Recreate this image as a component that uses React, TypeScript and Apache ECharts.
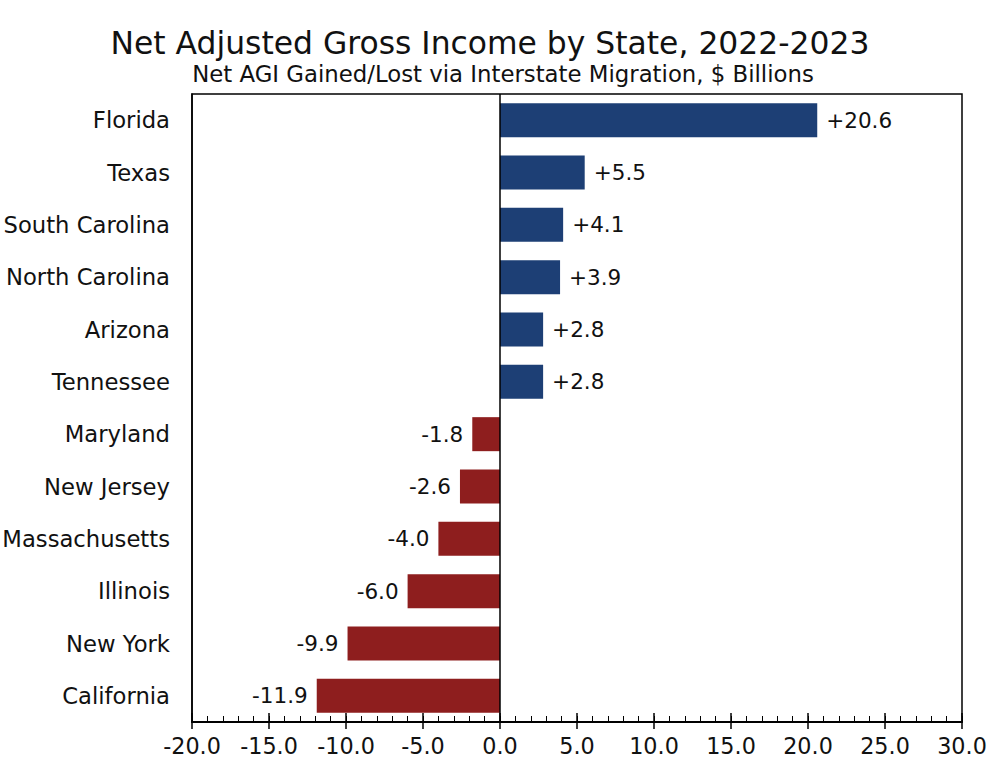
import React, { useEffect, useRef } from "react";
import * as echarts from "echarts";

const states = [
  "Florida",
  "Texas",
  "South Carolina",
  "North Carolina",
  "Arizona",
  "Tennessee",
  "Maryland",
  "New Jersey",
  "Massachusetts",
  "Illinois",
  "New York",
  "California",
];
const netAgi = [20.6, 5.5, 4.1, 3.9, 2.8, 2.8, -1.8, -2.6, -4.0, -6.0, -9.9, -11.9];
const xMin = -20;
const xMax = 30;

const BLUE = "#1d3f75";
const RED = "#8e1e1e";
const FONT = "Verdana, 'DejaVu Sans', sans-serif";

export default function App() {
  const ref = useRef<HTMLDivElement>(null);
  useEffect(() => {
    if (!ref.current) return;
    const chart = echarts.init(ref.current, null, { renderer: "svg" });
    const baseX = {
      type: "value" as const,
      min: xMin,
      max: xMax,
      position: "bottom" as const,
      splitLine: { show: false },
      axisLine: { show: true, onZero: false, lineStyle: { color: "#000", width: 1.5 } },
    };
    chart.setOption({
      animation: false,
      backgroundColor: "#fff",
      title: [
        {
          text: "Net Adjusted Gross Income by State, 2022-2023",
          left: 485,
          textAlign: "center",
          top: 22,
          textStyle: {
            fontFamily: FONT,
            fontWeight: "normal",
            fontSize: 31.4,
            color: "#111",
          },
        },
        {
          text: "Net AGI Gained/Lost via Interstate Migration, $ Billions",
          left: 498,
          textAlign: "center",
          top: 57,
          textStyle: {
            fontFamily: FONT,
            fontWeight: "normal",
            fontSize: 22.8,
            color: "#111",
          },
        },
      ],
      grid: {
        left: 192,
        right: 34,
        top: 94,
        bottom: 43,
        show: true,
        borderColor: "#000",
        borderWidth: 1.5,
        containLabel: false,
        outerBoundsMode: "none",
      },
      xAxis: [
        {
          ...baseX,
          interval: 5,
          axisTick: { show: true, inside: false, length: 7, lineStyle: { color: "#000", width: 1.5 } },
          axisLabel: {
            show: true,
            fontFamily: FONT,
            fontSize: 22.3,
            color: "#111",
            margin: 13,
            formatter: (v: number) => v.toFixed(1),
          },
        },
        {
          ...baseX,
          interval: 1,
          axisTick: { show: true, inside: true, length: 6, lineStyle: { color: "#000", width: 1 } },
          axisLabel: { show: false },
        },
        {
          ...baseX,
          interval: 5,
          axisTick: { show: true, inside: true, length: 9, lineStyle: { color: "#000", width: 1.5 } },
          axisLabel: { show: false },
        },
      ],
      yAxis: {
        type: "category",
        data: states,
        inverse: true,
        axisLine: { show: true, onZero: false, lineStyle: { color: "#000", width: 1.5 } },
        axisTick: { show: false },
        axisLabel: { fontFamily: FONT, fontSize: 22.7, color: "#111", margin: 22 },
      },
      series: [
        {
          type: "bar",
          xAxisIndex: 0,
          barCategoryGap: "35%",
          data: netAgi.map((v) => ({
            value: v,
            itemStyle: { color: v >= 0 ? BLUE : RED },
            label: { position: v >= 0 ? "right" : "left" },
          })),
          label: {
            show: true,
            fontFamily: FONT,
            fontSize: 21.5,
            color: "#111",
            distance: 9,
            formatter: (p: any) => (p.value > 0 ? "+" : "") + Number(p.value).toFixed(1),
          },
          markLine: {
            silent: true,
            symbol: "none",
            label: { show: false },
            lineStyle: { color: "#000", type: "solid", width: 1.5 },
            data: [{ xAxis: 0 }],
          },
        },
      ],
    });
    return () => chart.dispose();
  }, []);
  return (
    <div
      ref={ref}
      style={{ position: "absolute", left: 0, top: 0, width: 996, height: 765 }}
    />
  );
}
